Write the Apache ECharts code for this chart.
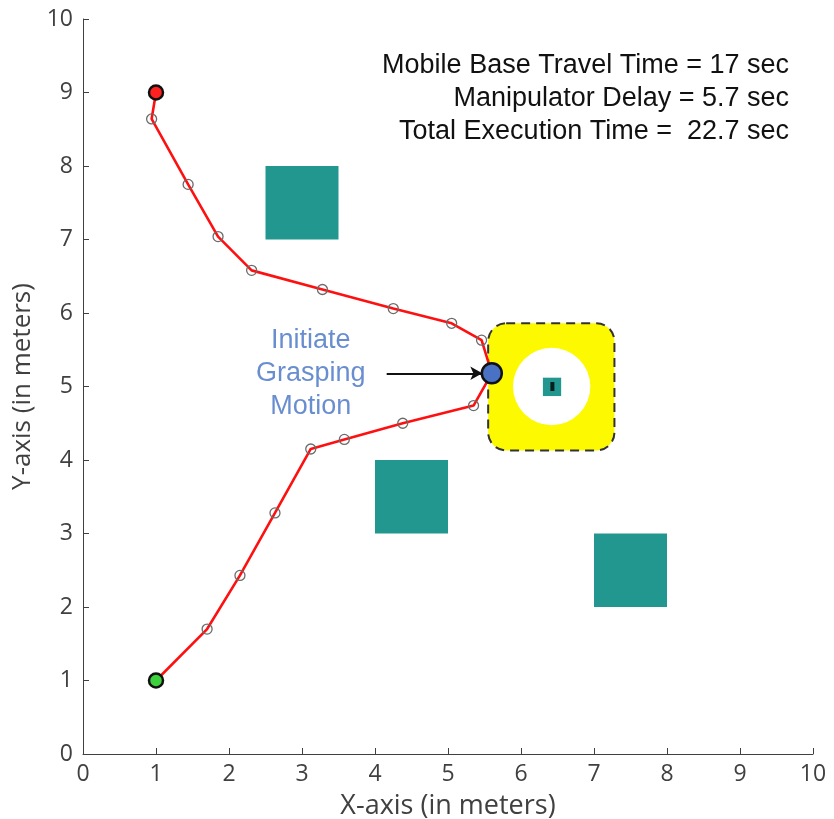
<!DOCTYPE html>
<html>
<head>
<meta charset="utf-8">
<script src="https://cdn.jsdelivr.net/npm/echarts@6/dist/echarts.min.js"></script>
<style>html,body{margin:0;padding:0;background:#fff}#c{width:834px;height:819px}</style>
</head>
<body>
<div id="c"></div>
<script>
// ---- data ----
const xTicks = [0,1,2,3,4,5,6,7,8,9,10];
const yTicks = [0,1,2,3,4,5,6,7,8,9,10];
const upperPath = [[1,9],[0.94,8.64],[1.44,7.75],[1.85,7.04],[2.31,6.58],[3.28,6.32],[4.25,6.06],[5.05,5.86],[5.46,5.63],[5.6,5.18]];
const lowerPath = [[1,1],[1.70,1.70],[2.15,2.43],[2.63,3.28],[3.12,4.15],[3.58,4.28],[4.38,4.50],[5.35,4.74],[5.6,5.18]];
const startPoint = [[1,9]];
const goalPoint = [[1,1]];
const graspPoint = [[5.6,5.18]];
const obstacles = [[2.5,7,3.5,8],[4,3,5,4],[7,2,8,3]];
const graspZone = [[5.55,4.13,7.28,5.86]];
const freeCircle = [[6.42,5.0,0.53]];
const targetBox = [[6.3,4.87,6.55,5.12]];
const targetMark = [[6.43,5.0]];
const arrowFrom = [4.16,5.18];
const arrowTo = [5.47,5.18];
const infoLines = ['Mobile Base Travel Time = 17 sec','Manipulator Delay = 5.7 sec','Total Execution Time =  22.7 sec'];
const annotation = ['Initiate','Grasping','Motion'];

const axisColor = '#404040';
const chart = echarts.init(document.getElementById('c'), null, {renderer:'canvas'});

function rectSeries(data, style, z) {
  return {
    type:'custom', z:z, silent:true,
    renderItem:(p, api)=>{
      const a = api.coord([api.value(0), api.value(3)]);
      const b = api.coord([api.value(2), api.value(1)]);
      return {type:'rect', shape:{x:a[0], y:a[1], width:b[0]-a[0], height:b[1]-a[1], r: style.r||0},
              style:Object.assign({}, style.style)};
    },
    data:data
  };
}

const option = {
  animation:false,
  grid:{left:83, right:21, top:19, bottom:65, outerBoundsMode:'none', containLabel:false},
  xAxis:{
    type:'value', min:0, max:10, interval:1,
    name:'X-axis (in meters)', nameLocation:'middle', nameGap:39,
    nameTextStyle:{fontFamily:'Open Sans', fontSize:27, color:axisColor},
    axisLine:{show:true, onZero:false, lineStyle:{color:axisColor, width:1}},
    axisTick:{show:true, inside:true, length:6, lineStyle:{color:axisColor}},
    axisLabel:{fontFamily:'Open Sans', fontSize:23, color:axisColor, margin:9,
      formatter:v=>xTicks.includes(v)?String(v):''},
    splitLine:{show:false}
  },
  yAxis:{
    type:'value', min:0, max:10, interval:1,
    name:'Y-axis (in meters)', nameLocation:'middle', nameGap:46, nameRotate:90,
    nameTextStyle:{fontFamily:'Open Sans', fontSize:26, color:axisColor},
    axisLine:{show:true, onZero:false, lineStyle:{color:axisColor, width:1}},
    axisTick:{show:true, inside:true, length:6, lineStyle:{color:axisColor}},
    axisLabel:{fontFamily:'Open Sans', fontSize:23, color:axisColor, margin:10,
      formatter:v=>yTicks.includes(v)?String(v):''},
    splitLine:{show:false}
  },
  graphic: infoLines.map((t,i)=>({
    type:'text', x:789, y:66+i*33, silent:true,
    style:{text:t, font:'27px "Liberation Sans", Arial, sans-serif', fill:'#111', align:'right', verticalAlign:'middle'}
  })),
  series:[
    rectSeries(obstacles, {style:{fill:'#22978f'}}, 1),
    rectSeries(graspZone, {r:18, style:{fill:'#fcf900', stroke:'#333', lineWidth:2, lineDash:[9,6]}}, 1),
    {
      type:'custom', z:2, silent:true,
      renderItem:(p, api)=>{
        const c = api.coord([api.value(0), api.value(1)]);
        const e = api.coord([api.value(0)+api.value(2), api.value(1)]);
        return {type:'circle', shape:{cx:c[0], cy:c[1], r:e[0]-c[0]}, style:{fill:'#fff'}};
      },
      data:freeCircle
    },
    rectSeries(targetBox, {style:{fill:'#22978f'}}, 3),
    {type:'scatter', z:4, silent:true, symbol:'rect', symbolSize:[4,9], itemStyle:{color:'#000'}, data:targetMark},
    {
      type:'line', z:5, data:upperPath, symbol:'circle', symbolSize:10,
      lineStyle:{color:'#ff1010', width:2.6},
      itemStyle:{color:'rgba(0,0,0,0)', borderColor:'#6b6b6b', borderWidth:1.3}
    },
    {
      type:'line', z:5, data:lowerPath, symbol:'circle', symbolSize:10,
      lineStyle:{color:'#ff1010', width:2.6},
      itemStyle:{color:'rgba(0,0,0,0)', borderColor:'#6b6b6b', borderWidth:1.3},
      markLine:{
        silent:true, symbol:['none','arrow'], symbolSize:[10,12],
        lineStyle:{color:'#111', width:1.8, type:'solid'}, label:{show:false},
        data:[[{coord:arrowFrom},{coord:arrowTo}]]
      }
    },
    {type:'scatter', z:10, data:startPoint, symbolSize:14, itemStyle:{color:'#ff2020', borderColor:'#111', borderWidth:2.5, opacity:1}},
    {type:'scatter', z:10, data:goalPoint, symbolSize:14, itemStyle:{color:'#3ed13e', borderColor:'#111', borderWidth:2.5, opacity:1}},
    {type:'scatter', z:10, data:graspPoint, symbolSize:20, itemStyle:{color:'#4a72c4', borderColor:'#111', borderWidth:2.5, opacity:1}},
    {
      type:'scatter', z:10, silent:true, symbolSize:0,
      data:[[3.12,5.18]],
      label:{show:true, position:'inside', formatter:annotation.join('\n'),
        fontFamily:'"Liberation Sans", Arial, sans-serif', fontSize:27, color:'#4472c4', lineHeight:33, align:'center'}
    }
  ]
};
chart.setOption(option);
</script>
</body>
</html>
